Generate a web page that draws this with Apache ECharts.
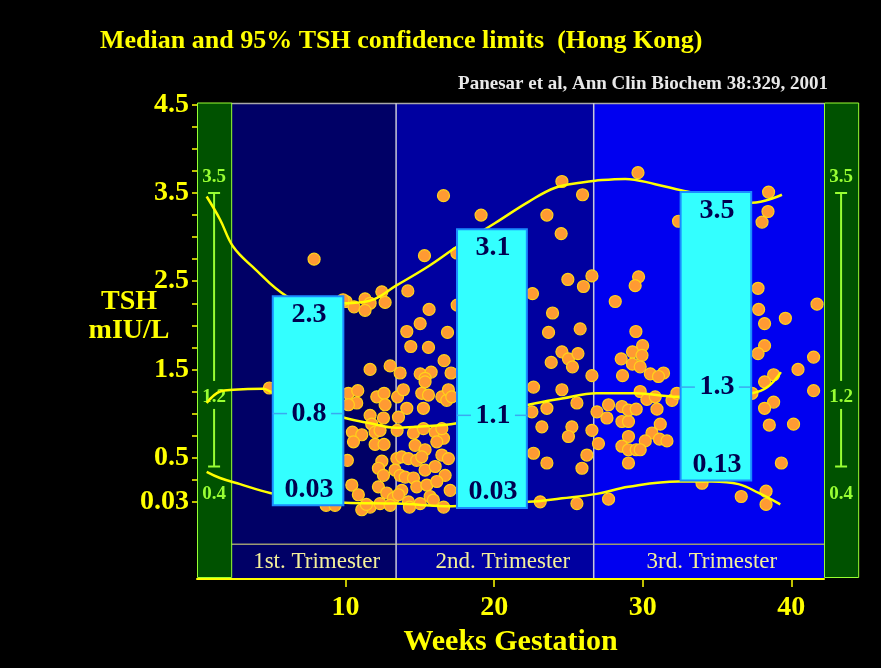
<!DOCTYPE html>
<html><head><meta charset="utf-8">
<script src="https://cdn.jsdelivr.net/npm/echarts@6/dist/echarts.min.js"></script>
<style>html,body{margin:0;padding:0;background:#000;}#c{width:881px;height:668px;}</style>
</head><body><div id="c"></div>
<script>
// ---------- text ----------
const titleText = 'Median and 95% TSH confidence limits  (Hong Kong)';
const sourceText = 'Panesar et al, Ann Clin Biochem 38:329, 2001';
const yAxisTitle = 'TSH\nmIU/L';
const xAxisTitle = 'Weeks Gestation';

// ---------- axes ----------
const yTickValues = [0, 0.25, 0.5, 0.75, 1, 1.25, 1.5, 1.75, 2, 2.25, 2.5, 2.75, 3, 3.25, 3.5, 3.75, 4, 4.25, 4.5];
const yLabelValues = [0, 0.5, 1.5, 2.5, 3.5, 4.5];
const yLabelTexts = ['0.03', '0.5', '1.5', '2.5', '3.5', '4.5'];
const xTickValues = [10, 20, 30, 40];

// ---------- trimesters (weeks) ----------
const trimesterNames = ['1st. Trimester', '2nd. Trimester', '3rd. Trimester'];
const trimesterStart = [2.3, 13.4, 26.7];
const trimesterEnd = [13.4, 26.7, 42.2];

// ---------- reference range side bars ----------
const sideBarStart = [0, 42.2];
const sideBarEnd = [2.3, 44.5];
const refValues = [3.5, 1.2, 0.4];      // upper, median, lower
const refLabels = ['3.5', '1.2', '0.4'];

// ---------- trimester boxes (weeks / TSH) ----------
const boxStart = [5.1, 17.5, 32.55];
const boxEnd = [9.85, 22.2, 37.3];
const boxLow = [-0.04, -0.07, 0.24];
const boxHigh = [2.33, 3.09, 3.51];
const boxMid = [1.0, 0.98, 1.3];
const boxHighLabel = ['2.3', '3.1', '3.5'];
const boxMidLabel = ['0.8', '1.1', '1.3'];
const boxLowLabel = ['0.03', '0.03', '0.13'];

// ---------- curves [week, TSH] ----------
const upperCurve = [[0.65,3.46],[1.55,3.2],[2.44,2.89],[3.77,2.66],[6.04,2.33],[8.0,2.24],[9.97,2.25],[11.65,2.28],[13.4,2.45],[15.58,2.67],[17.49,2.89],[20.07,3.16],[22.31,3.4],[24.11,3.56],[25.9,3.62],[26.8,3.64],[28.82,3.66],[30.84,3.6],[32.64,3.53],[35.0,3.45],[37.35,3.39],[39.37,3.48]];
const medianCurve = [[0.65,1.12],[1.55,1.25],[2.44,1.27],[4.46,1.28],[4.92,1.25],[7.5,1.08],[9.97,0.95],[11.65,0.89],[13.4,0.84],[14.68,0.85],[17.49,0.89],[20.0,1.0],[22.31,1.1],[24.56,1.17],[26.9,1.23],[29.49,1.23],[32.41,1.19],[35.0,1.2],[37.35,1.23],[38.4,1.3],[39.3,1.47]];
const lowerCurve = [[0.65,0.34],[1.55,0.27],[2.9,0.2],[4.92,0.1],[7.5,0.02],[9.97,-0.01],[13.45,-0.02],[17.2,-0.05],[20.4,0.0],[22.31,0.0],[24.56,0.04],[26.9,0.09],[29.04,0.17],[32.41,0.23],[34.66,0.23],[36.45,0.2],[37.8,0.1],[39.26,-0.03]];

// ---------- individual TSH results [week, TSH] ----------
const firstTriPoints = [[7.88,2.75],[10.03,2.27],[10.57,2.21],[11.31,2.30],[11.65,2.25],[11.31,2.17],[12.44,2.38],[12.66,2.26],[11.65,1.50],[13.0,1.54],[4.87,1.29],[10.19,1.23],[10.82,1.26],[10.75,1.12],[10.19,1.10],[12.10,1.19],[12.59,1.23],[12.66,1.10],[11.65,0.98],[12.55,0.95],[11.76,0.88],[10.46,0.79],[11.09,0.76],[10.53,0.68],[11.99,0.79],[12.32,0.81],[11.99,0.65],[12.59,0.65],[10.12,0.47],[12.44,0.46],[12.21,0.38],[12.55,0.30],[10.42,0.19],[10.86,0.08],[12.21,0.17],[12.77,0.10],[11.65,-0.06],[12.32,-0.02],[13.22,0.04],[11.09,-0.09],[8.69,-0.04],[9.29,-0.04],[9.83,2.29],[13.5,1.19],[13.47,0.81],[13.45,0.49],[13.33,0.36],[11.4,-0.03],[13.0,-0.04]];
const secondTriPoints = [[13.67,1.46],[15.02,1.45],[15.76,1.47],[17.10,1.46],[15.35,1.40],[16.59,3.47],[19.12,3.25],[24.56,3.63],[25.95,3.48],[23.55,3.25],[24.51,3.04],[15.31,2.79],[14.19,2.39],[24.96,2.52],[26.01,2.44],[26.58,2.56],[22.58,2.36],[15.62,2.18],[15.02,2.02],[14.12,1.93],[16.86,1.92],[14.39,1.76],[15.58,1.75],[16.63,1.60],[23.93,2.14],[23.66,1.92],[25.79,1.96],[24.56,1.70],[25.0,1.62],[25.64,1.68],[25.27,1.53],[23.84,1.58],[26.58,1.43],[17.49,2.82],[17.51,2.23],[13.89,1.27],[15.13,1.23],[15.58,1.21],[15.35,1.36],[16.48,1.19],[16.81,1.15],[16.92,1.27],[17.15,1.19],[14.12,1.06],[15.24,1.06],[14.57,0.78],[15.24,0.83],[16.03,0.79],[16.59,0.72],[16.48,0.83],[14.68,0.64],[15.35,0.59],[16.14,0.68],[13.78,0.51],[14.23,0.49],[14.79,0.47],[15.13,0.51],[16.48,0.53],[16.92,0.49],[15.35,0.36],[16.03,0.40],[16.70,0.30],[13.67,0.30],[14.01,0.28],[14.57,0.27],[14.79,0.17],[15.47,0.19],[16.14,0.23],[13.78,0.13],[15.69,0.06],[17.04,0.13],[14.23,0.0],[15.02,-0.02],[15.91,0.02],[13.56,0.08],[13.56,0.96],[14.3,-0.06],[16.6,-0.06],[22.65,1.30],[24.56,1.27],[25.57,1.12],[23.55,1.06],[22.54,1.02],[23.21,0.85],[25.23,0.85],[25.0,0.74],[26.58,0.81],[22.65,0.55],[23.55,0.44],[26.24,0.53],[25.91,0.38],[27.02,0.66],[23.10,0.0],[25.57,-0.02]];
const thirdTriPoints = [[29.68,3.73],[38.47,3.51],[38.43,3.29],[38.03,3.17],[32.41,3.18],[29.72,2.55],[29.49,2.45],[28.15,2.27],[29.54,1.93],[29.99,1.77],[29.31,1.70],[29.95,1.66],[28.55,1.62],[29.31,1.56],[29.83,1.53],[28.64,1.43],[30.51,1.45],[31.40,1.46],[31.06,1.42],[37.76,2.42],[37.80,2.18],[38.20,2.02],[39.60,2.08],[41.73,2.24],[38.20,1.77],[37.76,1.68],[41.50,1.64],[40.45,1.50],[38.81,1.44],[38.20,1.36],[41.50,1.26],[38.81,1.13],[38.20,1.06],[38.52,0.87],[40.15,0.88],[39.33,0.44],[37.35,1.23],[29.83,1.25],[30.28,1.16],[30.84,1.19],[30.96,1.05],[31.97,1.15],[26.92,1.02],[27.70,1.10],[27.59,0.95],[28.60,1.08],[28.60,0.91],[29.04,0.91],[29.04,1.04],[29.56,1.05],[31.18,0.88],[30.62,0.78],[31.13,0.71],[31.63,0.69],[30.17,0.69],[29.04,0.74],[28.60,0.63],[29.04,0.59],[29.56,0.59],[29.83,0.59],[29.04,0.44],[33.99,0.21],[27.70,0.03],[36.63,0.06],[38.30,0.12],[38.30,-0.03],[32.30,1.23]];

// ---------- styling ----------
const SERIF = '"Liberation Serif","Times New Roman",serif';
const YELLOW = '#FFFF00';
const LIME = '#99FF33';
const panelColors = ['#000066', '#0000A0', '#0000F0'];
const bandLineTSH = -0.48;
const bandLabelTSH = -0.68;

const chart = echarts.init(document.getElementById('c'), null, {renderer: 'canvas'});

const panelData = trimesterNames.map((n, i) => [trimesterStart[i], trimesterEnd[i], i]);
const sideData = sideBarStart.map((s, i) => [s, sideBarEnd[i], i]);
const boxData = boxStart.map((s, i) => [s, boxEnd[i], boxLow[i], boxHigh[i], boxMid[i], i]);

const option = {
  backgroundColor: '#000000',
  animation: false,
  title: [
    {text: titleText, left: 100, top: 28, padding: 0,
     textStyle: {color: YELLOW, fontSize: 26, fontWeight: 'bold', fontFamily: SERIF}},
    {text: sourceText, right: 53, top: 75, padding: 0,
     textStyle: {color: '#E8E8E8', fontSize: 19, fontWeight: 'bold', fontFamily: SERIF}}
  ],
  graphic: [
    {type: 'text', x: 129, y: 316, style: {text: yAxisTitle, fill: YELLOW, font: 'bold 28px ' + SERIF, align: 'center', verticalAlign: 'middle', lineHeight: 29}}
  ],
  grid: {left: 197, right: 57, top: 103, bottom: 89, containLabel: false},
  xAxis: {
    type: 'value', min: 0, max: 42.2,
    axisLine: {show: true, onZero: false, lineStyle: {color: YELLOW, width: 2}},
    axisTick: {show: true, customValues: xTickValues, length: 8, lineStyle: {color: YELLOW, width: 1.5}},
    axisLabel: {customValues: xTickValues, color: YELLOW, fontSize: 28, fontWeight: 'bold', fontFamily: SERIF, margin: 15},
    splitLine: {show: false},
    name: xAxisTitle, nameLocation: 'middle', nameGap: 47,
    nameTextStyle: {color: YELLOW, fontSize: 30, fontWeight: 'bold', fontFamily: SERIF}
  },
  yAxis: {
    type: 'value', min: -0.875, max: 4.52,
    axisLine: {show: false, onZero: false},
    axisTick: {show: true, customValues: yTickValues, length: 5, lineStyle: {color: YELLOW, width: 1.5}},
    axisLabel: {customValues: yLabelValues, color: YELLOW, fontSize: 28, fontWeight: 'bold', fontFamily: SERIF, margin: 8,
      formatter: v => { const k = yLabelValues.findIndex(t => Math.abs(t - v) < 1e-6); return k >= 0 ? yLabelTexts[k] : ''; }},
    splitLine: {show: false}
  },
  series: [
    { // trimester panels
      type: 'custom', z: 1, silent: true, data: panelData,
      renderItem: (params, api) => {
        const cs = params.coordSys;
        const s = api.coord([api.value(0), 0])[0];
        const e = api.coord([api.value(1), 0])[0];
        const i = api.value(2);
        const by = api.coord([0, bandLineTSH])[1];
        const ly = api.coord([0, bandLabelTSH])[1];
        const ch = [
          {type: 'rect', shape: {x: s, y: cs.y, width: e - s, height: cs.height - 1}, style: {fill: panelColors[i]}},
          {type: 'line', shape: {x1: s, y1: by, x2: e, y2: by}, style: {stroke: '#9C9A74', lineWidth: 1.5}},
          {type: 'line', shape: {x1: s, y1: cs.y + 0.5, x2: e, y2: cs.y + 0.5}, style: {stroke: '#A8A8A8', lineWidth: 1.5}},
          {type: 'text', style: {text: trimesterNames[i], x: (s + e) / 2 + (i === 1 ? 8 : 3), y: ly, align: 'center', verticalAlign: 'middle',
            fill: '#F4F09A', font: '23px ' + SERIF}}
        ];
        if (i > 0) ch.push({type: 'line', shape: {x1: s, y1: cs.y, x2: s, y2: cs.y + cs.height - 1}, style: {stroke: '#C8C8D8', lineWidth: 1.5}});
        return {type: 'group', children: ch};
      }
    },
    { // green reference side bars
      type: 'custom', z: 1, silent: true, data: sideData,
      renderItem: (params, api) => {
        const cs = params.coordSys;
        const s = api.coord([api.value(0), 0])[0];
        const e = api.coord([api.value(1), 0])[0];
        const cx = (s + e) / 2;
        const yt = api.coord([0, refValues[0]])[1];
        const ym = api.coord([0, refValues[1]])[1];
        const yl = api.coord([0, refValues[2]])[1];
        const st = {stroke: LIME, lineWidth: 2};
        const tf = 'bold 19px ' + SERIF;
        return {type: 'group', children: [
          {type: 'rect', shape: {x: s + 0.5, y: cs.y, width: e - s, height: cs.height - 1.5}, style: {fill: '#005200', stroke: LIME, lineWidth: 1}},
          {type: 'line', shape: {x1: cx, y1: yt, x2: cx, y2: ym - 15}, style: st},
          {type: 'line', shape: {x1: cx, y1: ym + 13, x2: cx, y2: yl}, style: st},
          {type: 'line', shape: {x1: cx - 6, y1: yt, x2: cx + 6, y2: yt}, style: st},
          {type: 'line', shape: {x1: cx - 6, y1: yl, x2: cx + 6, y2: yl}, style: st},
          {type: 'text', style: {text: refLabels[0], x: cx, y: yt - 16, align: 'center', verticalAlign: 'middle', fill: LIME, font: tf}},
          {type: 'text', style: {text: refLabels[1], x: cx, y: ym + 1, align: 'center', verticalAlign: 'middle', fill: LIME, font: tf}},
          {type: 'text', style: {text: refLabels[2], x: cx, y: yl + 28, align: 'center', verticalAlign: 'middle', fill: LIME, font: tf}}
        ]};
      }
    },
    {
      type: 'scatter', z: 3, data: firstTriPoints.concat(secondTriPoints, thirdTriPoints),
      symbol: 'circle', symbolSize: 12,
      itemStyle: {color: '#FF9A33', borderColor: '#FFD21A', borderWidth: 1.2, opacity: 1}
    },
    {type: 'line', z: 4, data: upperCurve, smooth: 0.4, showSymbol: false, clip: false, lineStyle: {color: YELLOW, width: 2.5}},
    {type: 'line', z: 4, data: medianCurve, smooth: 0.4, showSymbol: false, clip: false, lineStyle: {color: YELLOW, width: 2.5}},
    {type: 'line', z: 4, data: lowerCurve, smooth: 0.4, showSymbol: false, clip: false, lineStyle: {color: YELLOW, width: 2.5}},
    { // trimester boxes
      type: 'custom', z: 6, silent: true, data: boxData,
      renderItem: (params, api) => {
        const p1 = api.coord([api.value(0), api.value(3)]);
        const p2 = api.coord([api.value(1), api.value(2)]);
        const ym = api.coord([0, api.value(4)])[1];
        const i = api.value(5);
        const cx = (p1[0] + p2[0]) / 2;
        const f = 'bold 28px ' + SERIF;
        const tc = '#000050';
        return {type: 'group', children: [
          {type: 'rect', shape: {x: p1[0], y: p1[1], width: p2[0] - p1[0], height: p2[1] - p1[1]}, style: {fill: '#33FFFF', stroke: '#1A8CFF', lineWidth: 2}},
          {type: 'line', shape: {x1: p1[0], y1: ym, x2: cx - 21, y2: ym}, style: {stroke: '#3AA8F0', lineWidth: 1.5}},
          {type: 'line', shape: {x1: cx + 23, y1: ym, x2: p2[0], y2: ym}, style: {stroke: '#3AA8F0', lineWidth: 1.5}},
          {type: 'text', style: {text: boxHighLabel[i], x: cx + 1, y: p1[1] + 19, align: 'center', verticalAlign: 'middle', fill: tc, font: f}},
          {type: 'text', style: {text: boxMidLabel[i], x: cx + 1, y: ym, align: 'center', verticalAlign: 'middle', fill: tc, font: f}},
          {type: 'text', style: {text: boxLowLabel[i], x: cx + 1, y: p2[1] - 16, align: 'center', verticalAlign: 'middle', fill: tc, font: f}}
        ]};
      }
    }
  ]
};
chart.setOption(option);
</script>
</body></html>
